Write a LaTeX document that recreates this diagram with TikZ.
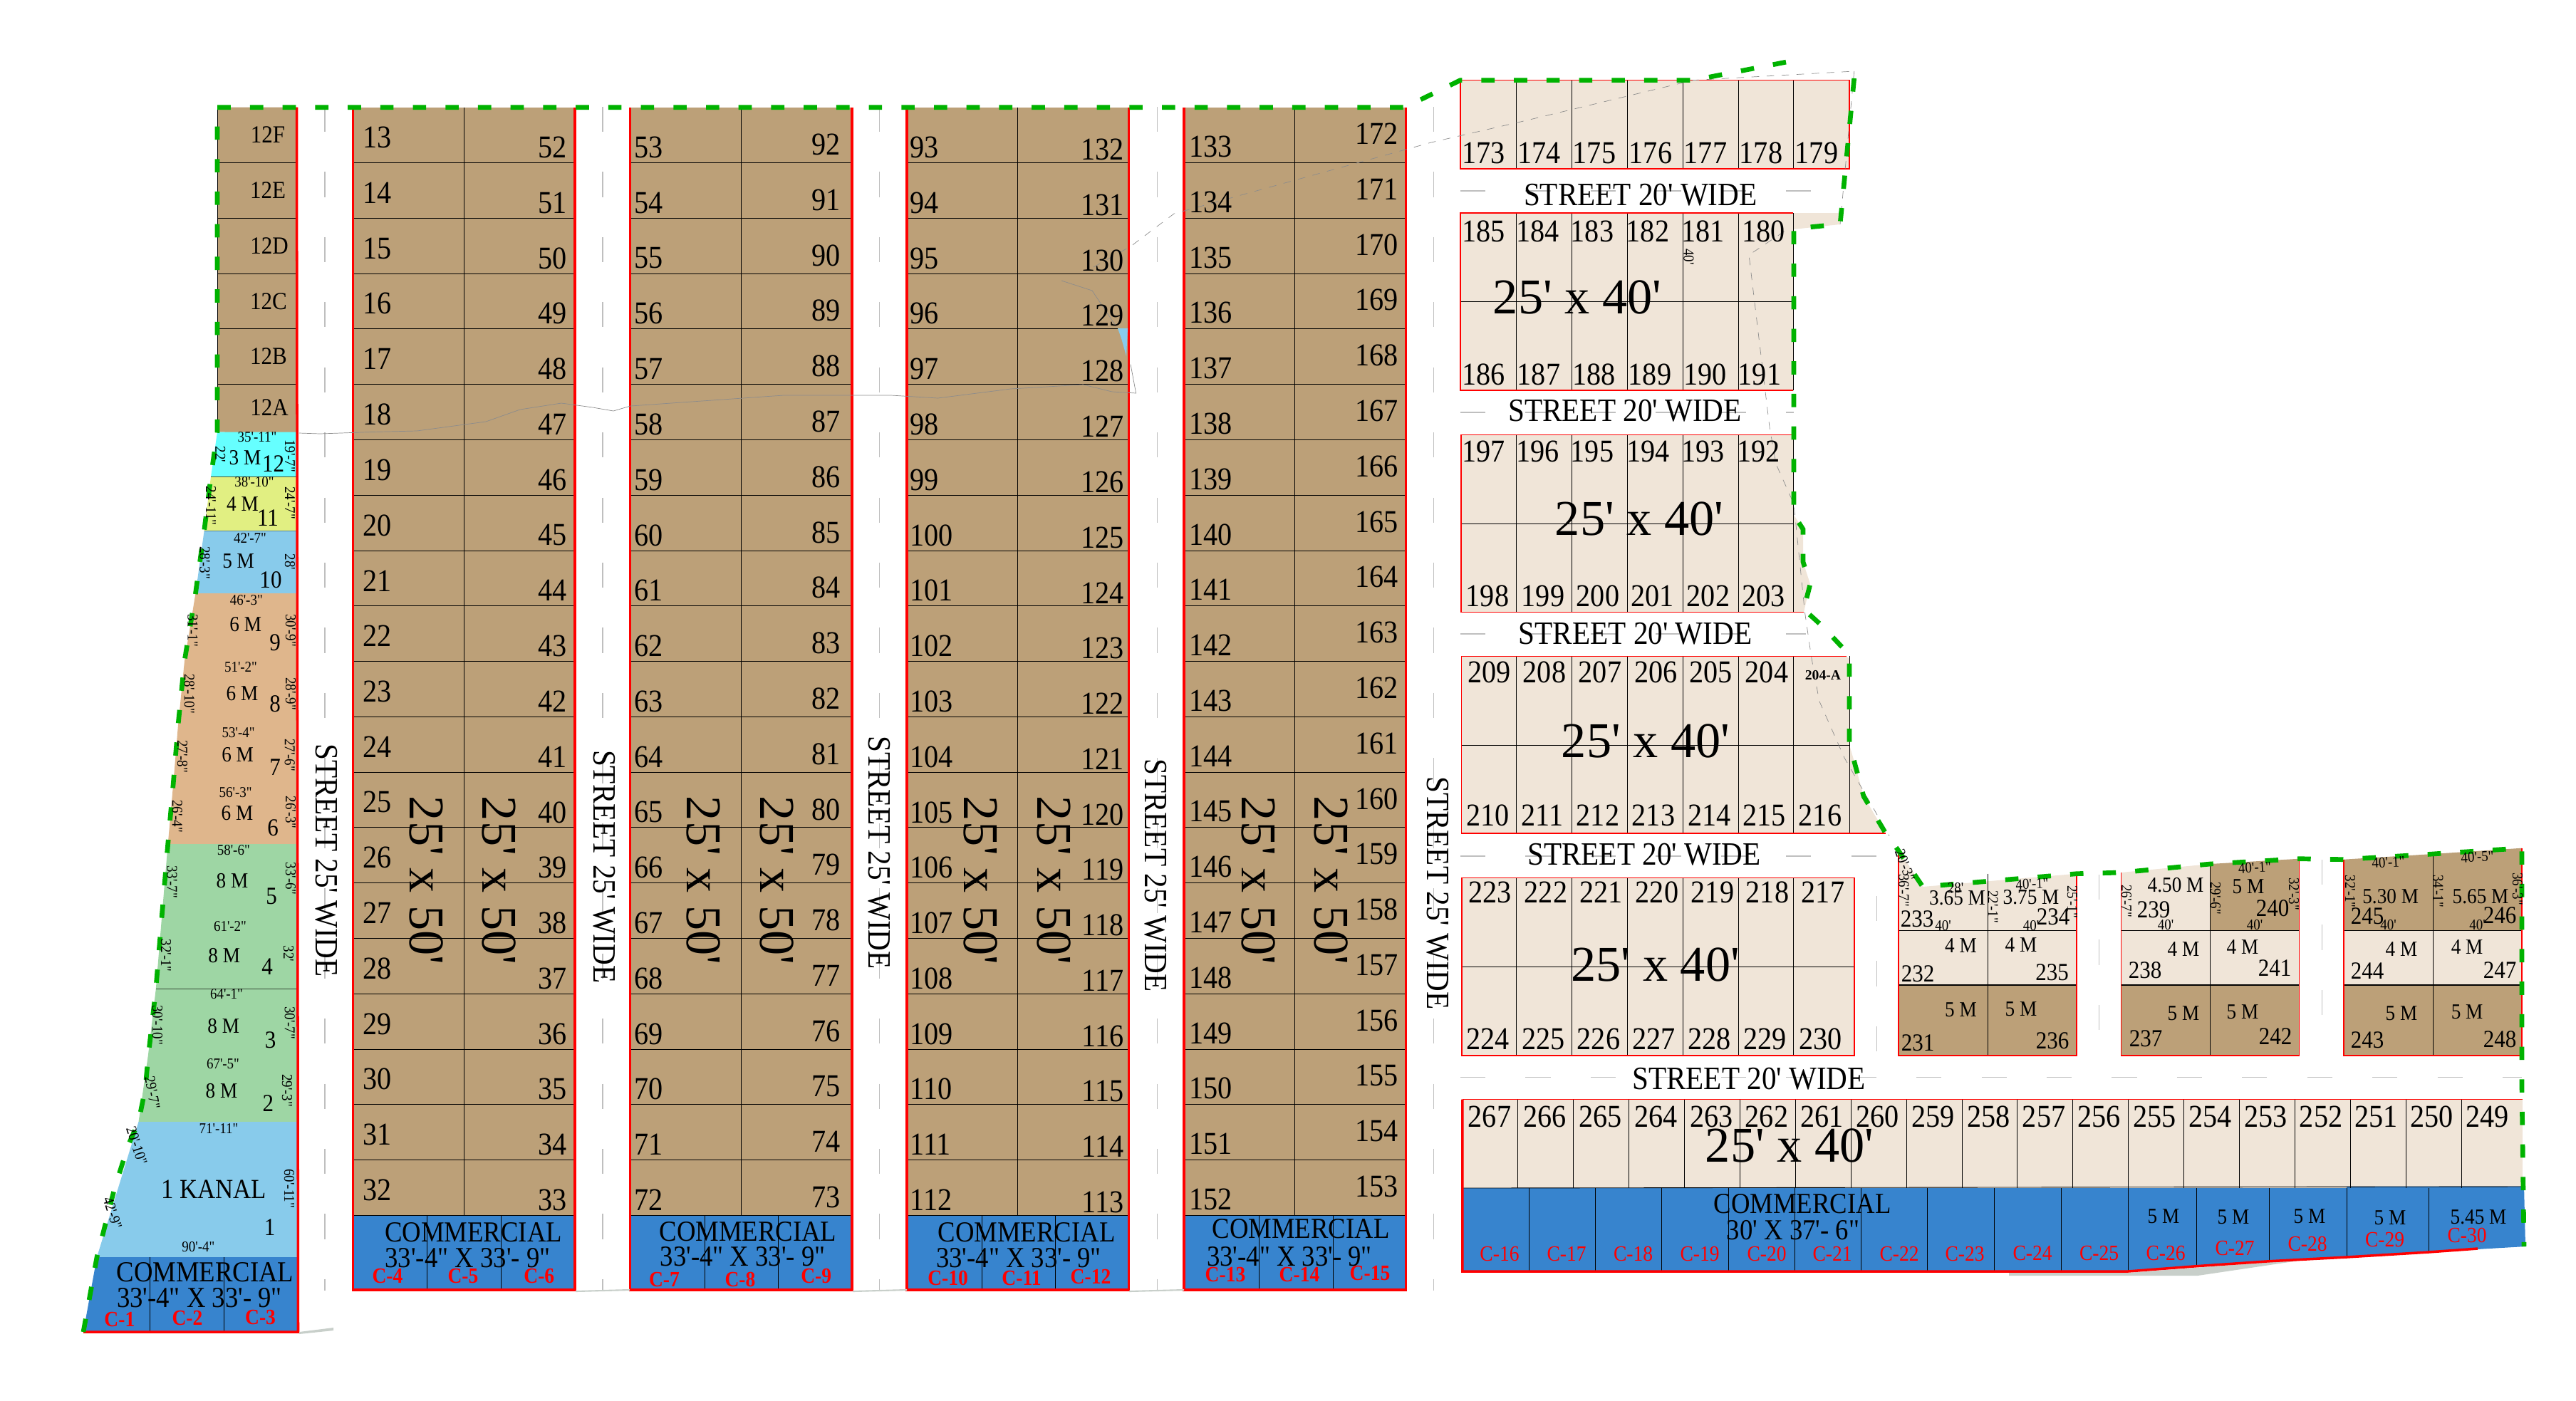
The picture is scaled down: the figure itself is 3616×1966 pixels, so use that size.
\documentclass[tikz,border=0pt]{standalone}
\usepackage{fontspec}
\setmainfont{Liberation Serif}[Ligatures=TeXOff]
\newfontfamily\narrowserif{Liberation Serif}[Ligatures=TeXOff,FakeStretch=0.9]
\definecolor{plottan}{RGB}{188,160,120}
\definecolor{plotbeige}{RGB}{240,229,216}
\definecolor{shopblue}{RGB}{55,132,206}
\definecolor{skyblue}{RGB}{136,203,235}
\definecolor{plotgreen}{RGB}{158,214,164}
\definecolor{plotpeach}{RGB}{223,182,140}
\definecolor{plotcyan}{RGB}{102,255,255}
\definecolor{plotyellow}{RGB}{225,239,130}
\definecolor{siteline}{RGB}{0,178,0}
\definecolor{shadowgrey}{RGB}{200,207,202}
\tikzset{
  plotnum/.style={font=\narrowserif\fontsize{12.7}{13}\selectfont,inner sep=0pt},
  smallnum/.style={font=\narrowserif\fontsize{9.8}{10}\selectfont,inner sep=0pt},
  sizelab/.style={font=\narrowserif\fontsize{8.6}{9}\selectfont,inner sep=0pt},
  dimlab/.style={font=\narrowserif\fontsize{6}{7}\selectfont,inner sep=0pt},
  biglab/.style={font=\fontsize{20}{22}\selectfont,inner sep=0pt},
  streetlab/.style={font=\narrowserif\fontsize{13}{14}\selectfont,inner sep=0pt},
  shoplab/.style={font=\narrowserif\fontsize{11.6}{12}\selectfont,inner sep=0pt},
  shopcode/.style={font=\narrowserif\fontsize{8.7}{9}\selectfont,text=red,inner sep=0pt},
  plotline/.style={draw=black,line width=0.25pt},
  rededge/.style={draw=red,line width=1pt},
  thinred/.style={draw=red,line width=0.45pt},
  streetaxis/.style={draw=black!25,line width=0.3pt,dash pattern=on 10pt off 16pt},
  oldline/.style={draw=black!45,line width=0.2pt},
  boundary/.style={draw=siteline,line width=1.9pt,dash pattern=on 5.3pt off 7.7pt}
}
\begin{document}
\begin{tikzpicture}[x=0.01cm,y=-0.01cm]
\useasboundingbox (0,0) rectangle (3616,1966);
\fill[plottan] (305,150.7) -- (416.5,150.7) -- (416.5,609) -- (305,606.5) -- cycle;
\foreach \xa/\ya/\xb/\yb/\clr in {305/606.5/296/669.6/plotcyan,296/669.6/286.6/745.4/plotyellow,286.6/745.4/274.5/833/skyblue,274.5/833/259/928/plotpeach,259/928/250/1018/plotpeach,250/1018/243/1103/plotpeach,243/1103/235.7/1185/plotpeach,235.7/1185/227/1289/plotgreen,227/1289/218.8/1388.6/plotgreen,218.8/1388.6/207.6/1484/plotgreen,207.6/1484/194.5/1575/plotgreen,194.5/1575/136/1765/skyblue,136/1765/117/1870/shopblue} {
  \fill[\clr] (\xa,\ya) -- (417,\ya) -- (417,\yb) -- (\xb,\yb) -- cycle;
  \draw[plotline] (\xb,\yb) -- (417,\yb);
}
\foreach \y in {228.7,306.8,384.3,461.8,539.9} {
  \draw[plotline] (305,\y) -- (416.5,\y);
}
\draw[plotline] (305,150.7) -- (305,606.5);
\draw[plotline] (210.5,1765) -- (210.5,1870);
\draw[plotline] (314.7,1765) -- (314.7,1870);
\draw[rededge] (416.5,150.7) -- (418.5,1870) -- (117,1870);
\foreach \bl/\bm/\ca/\cb in {495.7/651/599/703,884.5/1040/989/1092.7,1273/1428/1378/1481,1662/1817.5/1767/1871} {
  \fill[plottan] (\bl,150.7) rectangle (\bl+311.5,1706.3);
  \fill[shopblue] (\bl,1706.3) rectangle (\bl+311.5,1811);
  \foreach \k in {1,...,20} {
    \draw[plotline] (\bl,150.7+77.78*\k) -- (\bl+311.5,150.7+77.78*\k);
  }
  \draw[plotline] (\bm,150.7) -- (\bm,1706.3);
  \draw[plotline] (\ca,1706.3) -- (\ca,1811);
  \draw[plotline] (\cb,1706.3) -- (\cb,1811);
  \draw[rededge] (\bl,150.7) -- (\bl,1811) -- (\bl+311.5,1811) -- (\bl+311.5,150.7);
}
\foreach \x in {456,846,1234.5,1624,2012} {
  \draw[streetaxis] (\x,150) -- (\x,1812);
}
\draw[streetaxis] (2050,268) -- (2590,268);
\draw[streetaxis] (2050,579) -- (2518,579);
\draw[streetaxis] (2050,890) -- (2535,890);
\draw[streetaxis] (2050,1202) -- (2634,1202) -- (2634,1480);
\draw[streetaxis] (2050,1512.5) -- (3540,1512.5);
\draw[streetaxis] (2946,1228) -- (2946,1480);
\draw[streetaxis] (3259,1207) -- (3259,1480);
\fill[shadowgrey] (420,1870) -- (468,1864) -- (468,1868) -- (420,1873) -- cycle;
\fill[shadowgrey] (2820,1787) -- (2987,1787) -- (3240,1768) -- (3085,1791) -- (2820,1791) -- cycle;
\draw[shadowgrey,line width=0.6pt] (808,1813) -- (884,1811);
\draw[shadowgrey,line width=0.6pt] (1197,1813) -- (1273,1811);
\draw[shadowgrey,line width=0.6pt] (1585,1813) -- (1662,1811);
\fill[plotbeige] (2050,112.6) rectangle (2596,237);
\fill[plotbeige] (2050,299) -- (2583,299) -- (2583,315) -- (2517,322) -- (2517,548) -- (2050,548) -- cycle;
\fill[plotbeige] (2051,610.6) -- (2518,610.6) -- (2518,723) -- (2531,743) -- (2531,789) -- (2541,820) -- (2532,859.6) -- (2051,859.6) -- cycle;
\fill[plotbeige] (2051.3,921.4) -- (2591.5,921.4) -- (2596,925) -- (2596,1046) -- (2602.7,1068.7) -- (2616,1118) -- (2647,1170) -- (2051.3,1170) -- cycle;
\fill[plotbeige] (2051.8,1232.6) rectangle (2602.7,1481.7);
\fill[plotbeige] (2052.8,1543.5) rectangle (3541,1668);
\fill[shopblue] (2052.8,1668) -- (3294,1668) -- (3294,1665.7) -- (3543,1665.7) -- (3545,1750) -- (3409,1758) -- (3294,1765) -- (3186,1770.7) -- (3083,1777.7) -- (2987,1785) -- (2052.8,1785) -- cycle;
\foreach \x in {2128,2206,2284,2362,2440,2517} {
  \draw[plotline] (\x,112.6) -- (\x,237);
  \draw[plotline] (\x,299) -- (\x,548);
  \draw[plotline] (\x,610.6) -- (\x,859.6);
  \draw[plotline] (\x,921.4) -- (\x,1170);
  \draw[plotline] (\x,1232.6) -- (\x,1481.7);
}
\draw[plotline] (2050,423) -- (2517,423);
\draw[plotline] (2051,735) -- (2518,735);
\draw[plotline] (2051.3,1046) -- (2596,1046);
\draw[plotline] (2596,921.4) -- (2596,1170);
\draw[plotline] (2051.8,1357.6) -- (2602.7,1357.6);
\foreach \k in {1,...,18} {
  \draw[plotline] (2052.8+77.9*\k,1543.5) -- (2052.8+77.9*\k,1668);
}
\draw[plotline] (2052.8,1668) -- (3541,1666);
\foreach \x/\yb in {2146/1785,2239/1785,2332/1785,2426/1785,2519/1785,2612.4/1785,2705.8/1785,2799/1785,2893.5/1785,2987/1785,3083/1777.7,3185.8/1770.7,3294/1765,3409/1758} {
  \draw[plotline] (\x,1668) -- (\x,\yb);
}
\draw[thinred] (2050,237) -- (2050,112.6) -- (2596,112.6) -- (2596,237) -- cycle;
\draw[thinred] (2517,299) -- (2050,299) -- (2050,548) -- (2517,548);
\draw[thinred] (2518,610.6) -- (2051,610.6) -- (2051,859.6) -- (2532,859.6);
\draw[thinred] (2591.5,921.4) -- (2051.3,921.4) -- (2051.3,1170) -- (2647,1170);
\draw[thinred] (2051.8,1232.6) rectangle (2602.7,1481.7);
\draw[thinred] (2052.8,1543.5) -- (3541,1543.5);
\draw[rededge] (2052.8,1543.5) -- (2052.8,1785) -- (2987,1785) -- (3083,1777.7) -- (3185.8,1770.7) -- (3294,1765) -- (3409,1758) -- (3478,1753);
\fill[plotbeige] (2665,1193) -- (2699,1245) -- (2915,1226.7) -- (2915,1306.7) -- (2665,1306.7) -- cycle;
\fill[plotbeige] (2977.5,1225) -- (3102.5,1213) -- (3102.5,1306.7) -- (2977.5,1306.7) -- cycle;
\fill[plottan] (3102.5,1213) -- (3227.5,1205.7) -- (3227.5,1306.7) -- (3102.5,1306.7) -- cycle;
\fill[plottan] (3290,1206.7) -- (3415,1199) -- (3540,1190.7) -- (3540,1306.7) -- (3290,1306.7) -- cycle;
\foreach \bl/\bm/\br/\ya/\yb/\yc in {2665/2790/2915/1193/1226.7/1226.7,2977.5/3102.5/3227.5/1225/1213/1205.7,3290/3415/3540/1206.7/1199/1190.7} {
  \fill[plotbeige] (\bl,1306.7) rectangle (\br,1383);
  \fill[plottan] (\bl,1383) rectangle (\br,1481.7);
  \draw[plotline] (\bl,1306.7) -- (\br,1306.7);
  \draw[plotline,line width=0.6pt] (\bl,1383) -- (\br,1383);
  \draw[plotline] (\bm,\yb) -- (\bm,1481.7);
  \draw[thinred] (\bl,\ya) -- (\bl,1481.7) -- (\br,1481.7) -- (\br,\yc);
}
\draw[oldline] (420,608) -- (449,609) -- (522,606.5) -- (585,605) -- (682,592) -- (730,575) -- (788,566) -- (832,572) -- (861,577) -- (885,570) -- (1100,555) -- (1251,555) -- (1316.5,559) -- (1418.6,546) -- (1520.6,540) -- (1561,550) -- (1594.6,552) -- (1587,511.6);
\fill[skyblue] (1569,461) -- (1583,461) -- (1581,500) -- (1574,475) -- cycle;
\draw[oldline] (1490,394) -- (1533,408) -- (1566.5,458);
\draw[oldline,dashed] (1535,375) -- (1587,346) -- (1648,300) -- (2009,200) -- (2143,169) -- (2377,112.6) -- (2602.7,100);
\draw[oldline,dashed] (2602.7,100) -- (2583,315);
\draw[oldline,dashed] (2504.5,325) -- (2455,358) -- (2484,600) -- (2493,651.4) -- (2518,707.5) -- (2533.5,860) -- (2542.4,921) -- (2553.6,984) -- (2589,1064) -- (2652,1173.6);
\draw[boundary] (117,1870) -- (136,1765) -- (141,1746) -- (160.6,1669) -- (180,1608) -- (194.5,1575) -- (204,1528) -- (207.6,1488) -- (218.8,1388.6) -- (227,1289) -- (235.7,1185) -- (243,1103) -- (250,1018) -- (259,928) -- (274.5,833) -- (286.6,745.4) -- (296,669.6) -- (305,606.5) -- (305,150.7) -- (1972,150.7) -- (2050,112.6) -- (2377,112.6) -- (2518,85);
\draw[boundary] (2602.7,110) -- (2583,314.7) -- (2518,321) -- (2518,723) -- (2531,743) -- (2531,789) -- (2541,820) -- (2532,855.5) -- (2558,879) -- (2591.5,914.7) -- (2596,921) -- (2596,1046) -- (2602.7,1068.7) -- (2616,1118) -- (2647,1170) -- (2664,1193) -- (2699,1245) -- (2915,1226.7) -- (2977.5,1225) -- (3102.5,1213) -- (3227.5,1205.7) -- (3290,1206.7) -- (3415,1199) -- (3540,1190.7) -- (3540,1528) -- (3543,1750);
\foreach \bl/\xl/\xr/\yl/\yr/\sl/\sr in {495.7/509/796/193/207/13/52,884.5/889.6/1180/207/203/53/92,1273/1277/1578/207/210/93/132,1662/1668.6/1963.5/206/188/133/172} {
  \foreach \k in {0,...,19} {
    \pgfmathtruncatemacro{\nl}{\sl+\k}
    \pgfmathtruncatemacro{\nr}{\sr-\k}
    \node[plotnum,anchor=west] (p\nl) at (\xl,\yl+77.78*\k) {\nl};
    \node[plotnum,anchor=east] (p\nr) at (\xr,\yr+77.78*\k) {\nr};
  }
}
\foreach \x [count=\i] in {599,701,988,1091,1377,1480,1766.5,1868.6} {
  \node[biglab,rotate=-90] (size\i) at (\x,1236) {25' x 50'};
}
\foreach \x/\y [count=\i] in {458.7/1208,847.8/1216.7,1234.5/1197,1622.6/1229,2018/1254} {
  \node[streetlab,rotate=-90] (wide\i) at (\x,\y) {STREET 25' WIDE};
}
\foreach \x/\y [count=\i] in {2302.7/274,2281/577,2295.5/890,2308/1200,2455/1515} {
  \node[streetlab] (narrow\i) at (\x,\y) {STREET 20' WIDE};
}
\foreach \x/\y [count=\i] in {2214/417,2301/728,2310/1040,2323.7/1354.5,2512/1608} {
  \node[biglab] (row\i) at (\x,\y) {25' x 40'};
}
\foreach \lab/\x in {173/2082.6,174/2160.7,175/2238,176/2317,177/2394,178/2472,179/2550} {
  \node[plotnum] (p\lab) at (\x,215) {\lab};
}
\foreach \lab/\x in {185/2082.6,184/2158.5,183/2235,182/2313,181/2390.6,180/2475.4} {
  \node[plotnum] (p\lab) at (\x,325) {\lab};
}
\foreach \lab/\x in {186/2082.6,187/2160,188/2237.5,189/2316,190/2393.8,191/2470} {
  \node[plotnum] (p\lab) at (\x,526) {\lab};
}
\foreach \lab/\x in {197/2082.6,196/2158.5,195/2235,194/2313.8,193/2390.6,192/2468.8} {
  \node[plotnum] (p\lab) at (\x,633.6) {\lab};
}
\foreach \lab/\x in {198/2088,199/2166,200/2243,201/2319.6,202/2398,203/2475.4} {
  \node[plotnum] (p\lab) at (\x,836.6) {\lab};
}
\foreach \lab/\x in {209/2090.6,208/2168,207/2246,206/2324.6,205/2401.8,204/2480} {
  \node[plotnum] (p\lab) at (\x,943.7) {\lab};
}
\foreach \lab/\x in {210/2088.4,211/2165,212/2243,213/2321,214/2399.6,215/2476.8,216/2555} {
  \node[plotnum] (p\lab) at (\x,1144.6) {\lab};
}
\foreach \lab/\x in {223/2091.5,222/2170,221/2247.8,220/2326,219/2404,218/2481,217/2559} {
  \node[plotnum] (p\lab) at (\x,1252.7) {\lab};
}
\foreach \lab/\x in {224/2088.8,225/2166.5,226/2244,227/2321.4,228/2399.6,229/2477.7,230/2555.8} {
  \node[plotnum] (p\lab) at (\x,1458.5) {\lab};
}
\foreach \k in {0,...,18} {
  \pgfmathtruncatemacro{\nr}{267-\k}
  \node[plotnum] (p\nr) at (2091+77.8*\k,1568) {\nr};
}
\node[dimlab,font=\fontsize{5.6}{6}\selectfont\bfseries] (p204A) at (2559,948) {204-A};
\foreach \lab/\x/\y in {12F/376/189,12E/376/266.6,12D/378/345,12C/377/423,12B/377/500,12A/378/572,12/383.6/650.7,11/376/727,10/380/814,9/386/902.7,8/386/988,7/386/1077.5,6/383/1162.5,5/381/1258,4/375/1357,3/379.7/1460,2/376.3/1549,1/378.7/1723,233/2691/1290,234/2882/1287,232/2692/1367.7,235/2880.6/1365,231/2692/1464,236/2881/1461.7,239/3023/1277.7,240/3190/1275,238/3011/1361.7,241/3193/1359,237/3012/1458,242/3194/1455,245/3323/1286,246/3509/1285,244/3323/1363,247/3509/1362,243/3323/1460,248/3509/1459} {
  \node[smallnum] (p\lab) at (\x,\y) {\lab};
}
\foreach \lab/\x/\y [count=\i] in {3 M/344/642.6,4 M/340.4/707.5,5 M/334.6/788,6 M/344.8/877,6 M/340/974,6 M/333.6/1060,6 M/333/1142,8 M/326/1237,8 M/314.7/1341.6,8 M/313.8/1441,8 M/310.9/1532,3.65 M/2747.5/1261,3.75 M/2851/1260,4 M/2752.5/1327.7,4 M/2837/1327,5 M/2752.5/1417.7,5 M/2837/1417,4.50 M/3054/1242.7,5 M/3156/1245,4 M/3065/1333,4 M/3148/1330,5 M/3065/1423,5 M/3148/1421,5.30 M/3355.6/1259,5.65 M/3482/1259,4 M/3371/1332.7,4 M/3463/1330,5 M/3371/1422.7,5 M/3463/1420.7,5 M/3037/1708,5 M/3135/1709,5 M/3242/1708,5 M/3355/1710,5.45 M/3479/1709} {
  \node[sizelab] (area\i) at (\x,\y) {\lab};
}
\node[font=\narrowserif\fontsize{11}{12}\selectfont,inner sep=0pt] (kanal) at (300,1670) {1 KANAL};
\foreach \lab/\x/\y/\r [count=\i] in {35'-11"/361/614/0,19'-7"/407/640/-90,22'/309.4/638/-90,38'-10"/357/676.5/0,24'-7"/407/706/-90,24'-11"/296/710/-90,42'-7"/351/755.7/0,28'/407/789/-90,28'-3"/287.6/790/-90,46'-3"/345.8/843/0,30'-9"/408/885/-90,31'-1"/270.6/885/-90,51'-2"/338/936.5/0,28'-9"/408/974/-90,28'-10"/265.8/974/-90,53'-4"/334.6/1028.7/0,27'-6"/406.8/1060/-90,27'-8"/256/1062/-90,56'-3"/330.7/1113/0,26'-3"/408/1140.6/-90,26'-4"/248.8/1146/-90,58'-6"/327.8/1194/0,33'-6"/408/1233.6/-90,33'-7"/241.5/1238/-90,61'-2"/323/1300.8/0,32'/405/1338.7/-90,32'-1"/233/1341.6/-90,64'-1"/318/1396/0,30'-7"/406.8/1436/-90,30'-10"/221/1439/-90,67'-5"/313/1493.7/0,29'-3"/403/1531/-90,29'-7"/214/1534/-80,71'-11"/307/1584.4/0,60'-11"/406/1668.8/-90,20'-10"/192/1608.5/-72,42'-9"/158/1703/-72,90'-4"/278.4/1750.8/0,40'/2370.5/360.6/-90,28'/2745/1246.7/0,40'-1"/2852.5/1241/3,36'-7"/2672.5/1250/-90,20'-3"/2674/1215/-70,22'-1"/2797.5/1273/-90,25'-1"/2909/1266/-90,40'/2727.5/1300/0,40'/2851/1300/0,26'-7"/2985/1265/-90,29'-6"/3110/1261/-90,32'-3"/3220/1255/-90,40'-1"/3165/1218/3,40'/3040/1299/0,40'/3165/1299/0,32'-1"/3299/1251.7/-90,34'-1"/3422.5/1251/-90,36'-3"/3534/1248/-90,40'-1"/3352.5/1210.7/3,40'-5"/3477.5/1203/3,40'/3352.5/1299/0,40'/3477.5/1299/0} {
  \node[dimlab,rotate=\r] (dim\i) at (\x,\y) {\lab};
}
\foreach \x/\y [count=\i] in {288/1786,664.7/1730,1050/1729.6,1441/1730,1826/1725,2530/1690} {
  \node[shoplab] (shop\i) at (\x,\y) {COMMERCIAL};
}
\foreach \x/\y [count=\i] in {280/1822.6,656.5/1766,1042.6/1764,1430/1766,1810/1764} {
  \node[shoplab] (dimshop\i) at (\x,\y) {33'-4" X 33'- 9"};
}
\node[shoplab] (dimshop6) at (2517,1727) {30' X 37'- 6"};
\foreach \lab/\x/\y in {1/167.9/1852.5,2/263/1850.7,3/365.6/1849.6,4/544/1791,5/650/1791,6/756.8/1791,7/932.4/1796.5,8/1039/1796.5,9/1145.7/1791.5,10/1330.6/1794,11/1434/1794,12/1531/1792,13/1720/1789,14/1824/1789,15/1923/1787} {
  \node[shopcode,font=\narrowserif\fontsize{8.7}{9}\selectfont\bfseries] (c\lab) at (\x,\y) {C-\lab};
}
\foreach \lab/\x/\y in {16/2105/1760,17/2199/1760,18/2292.6/1760,19/2386/1760,20/2480/1760,21/2572/1760,22/2666/1760,23/2758/1760,24/2853/1759,25/2946.5/1759,26/3040/1759,27/3137/1752.7,28/3239/1746.7,29/3347.5/1740,30/3463/1734} {
  \node[shopcode] (c\lab) at (\x,\y) {C-\lab};
}
\end{tikzpicture}
\end{document}
